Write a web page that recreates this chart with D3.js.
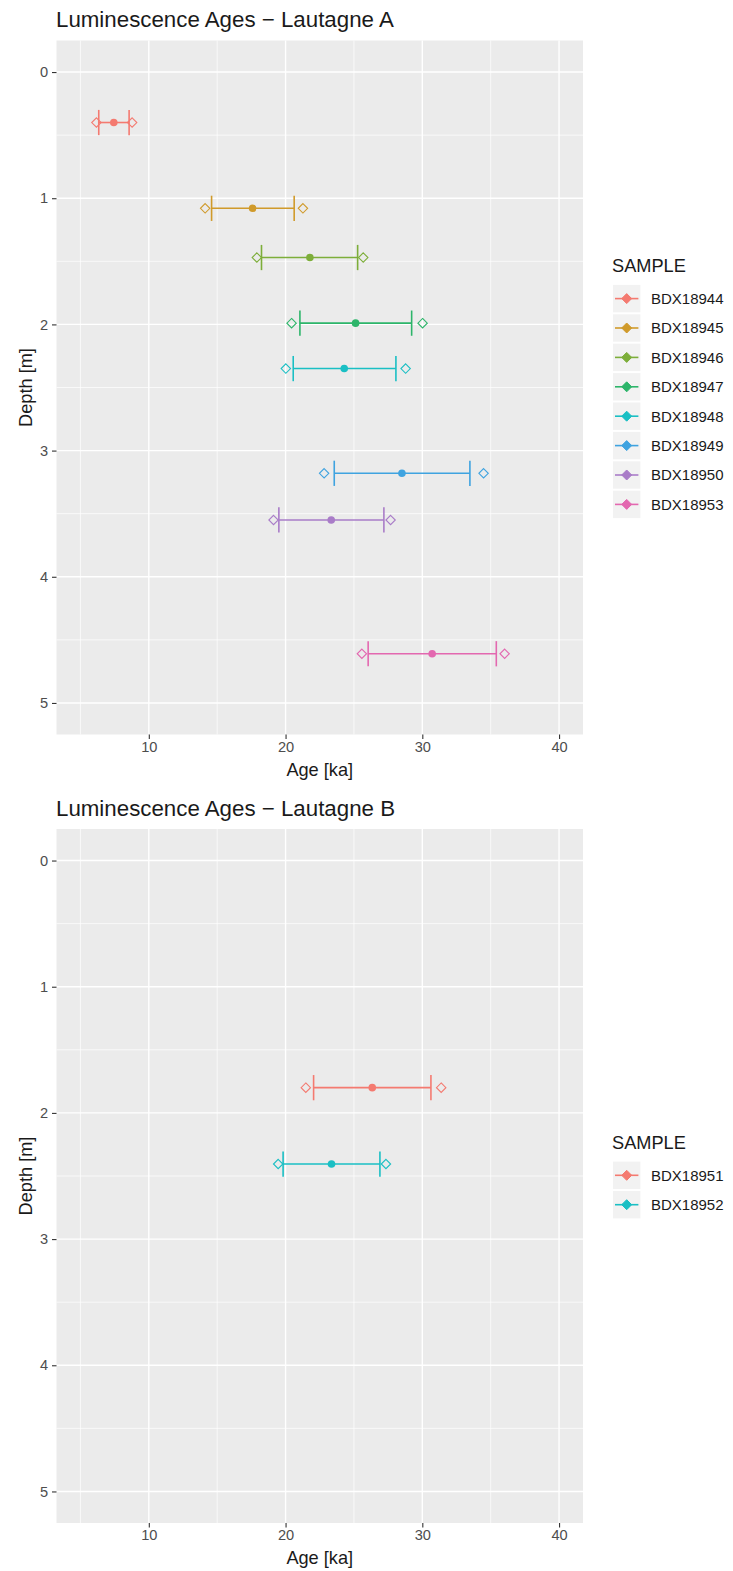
<!DOCTYPE html>
<html>
<head>
<meta charset="utf-8">
<script src="https://cdn.jsdelivr.net/npm/d3@7"></script>
<style>
  html, body { margin: 0; padding: 0; background: #ffffff; }
  svg { display: block; }
  text { font-family: "Liberation Sans", Arial, "DejaVu Sans", sans-serif; }
</style>
</head>
<body>
<svg id="chart" width="733" height="1571"></svg>
<script>
// ---------------- DATA ----------------
// Panel A (Lautagne A)
const samplesA   = ["BDX18944","BDX18945","BDX18946","BDX18947","BDX18948","BDX18949","BDX18950","BDX18953"];
const depthA     = [0.40, 1.08, 1.47, 1.99, 2.35, 3.18, 3.55, 4.61];
const ageA       = [7.44, 17.59, 21.78, 25.12, 24.29, 28.51, 23.34, 30.72];
const errLowA    = [6.34, 14.59, 18.24, 21.05, 20.56, 23.56, 19.51, 26.04];
const errHighA   = [8.56, 20.63, 25.27, 29.22, 28.07, 33.48, 27.19, 35.41];
const altLowA    = [6.17, 14.12, 17.90, 20.44, 20.02, 22.82, 19.12, 25.58];
const altHighA   = [8.78, 21.27, 25.68, 30.02, 28.78, 34.48, 27.68, 36.02];
const colorsA    = ["#F47A70","#D09A2A","#7DAE3A","#2DB56A","#1ABFC4","#3FA3E0","#A97CC8","#E368B0"];

// Panel B (Lautagne B)
const samplesB   = ["BDX18951","BDX18952"];
const depthB     = [1.80, 2.405];
const ageB       = [26.34, 23.36];
const errLowB    = [22.05, 19.82];
const errHighB   = [30.63, 26.90];
const altLowB    = [21.48, 19.46];
const altHighB   = [31.38, 27.34];
const colorsB    = ["#F47A70","#1ABFC4"];

// Axes
const xLimits    = [5, 40];
const yLimits    = [0, 5];
const xMajor     = [10, 20, 30, 40];
const xMinor     = [5, 15, 25, 35];
const yMajor     = [0, 1, 2, 3, 4, 5];
const yMinor     = [0.5, 1.5, 2.5, 3.5, 4.5];
const titles     = ["Luminescence Ages \u2212 Lautagne A", "Luminescence Ages \u2212 Lautagne B"];
const xTitle     = "Age [ka]";
const yTitle     = "Depth [m]";
const legendTitle = "SAMPLE";

// ---------------- DRAW ----------------
const svg = d3.select("#chart");
const panelLeft = 56.5, panelRight = 583;
const panelTop = 40.5, panelBottom = 734.5;
const panelOffset = 788.5;

function expand(lim, f) { const d = (lim[1]-lim[0])*f; return [lim[0]-d, lim[1]+d]; }

function drawPanel(offsetY, title, samples, depth, age, eLo, eHi, aLo, aHi, colors) {
  const g = svg.append("g").attr("transform", `translate(0,${offsetY})`);
  const x = d3.scaleLinear().domain(expand(xLimits, 0.05)).range([panelLeft, panelRight]);
  const y = d3.scaleLinear().domain(expand(yLimits, 0.05)).range([panelTop, panelBottom]);

  // title
  g.append("text").attr("x", 56).attr("y", 27.3)
    .attr("font-size", 22.3).attr("fill", "#1a1a1a").text(title);

  // background
  g.append("rect").attr("x", panelLeft).attr("y", panelTop)
    .attr("width", panelRight - panelLeft).attr("height", panelBottom - panelTop)
    .attr("fill", "#EBEBEB");

  // grid minor
  g.selectAll(".xminor").data(xMinor).join("line")
    .attr("x1", d => x(d)).attr("x2", d => x(d)).attr("y1", panelTop).attr("y2", panelBottom)
    .attr("stroke", "#ffffff").attr("stroke-width", 0.7);
  g.selectAll(".yminor").data(yMinor).join("line")
    .attr("y1", d => y(d)).attr("y2", d => y(d)).attr("x1", panelLeft).attr("x2", panelRight)
    .attr("stroke", "#ffffff").attr("stroke-width", 0.7);
  // grid major
  g.selectAll(".xmajor").data(xMajor).join("line")
    .attr("x1", d => x(d)).attr("x2", d => x(d)).attr("y1", panelTop).attr("y2", panelBottom)
    .attr("stroke", "#ffffff").attr("stroke-width", 1.4);
  g.selectAll(".ymajor").data(yMajor).join("line")
    .attr("y1", d => y(d)).attr("y2", d => y(d)).attr("x1", panelLeft).attr("x2", panelRight)
    .attr("stroke", "#ffffff").attr("stroke-width", 1.4);

  // axes
  const xAxis = d3.axisBottom(x).tickValues(xMajor).tickSize(4.5).tickPadding(2.5).tickFormat(d3.format("d"));
  const yAxis = d3.axisLeft(y).tickValues(yMajor).tickSize(4.5).tickPadding(4).tickFormat(d3.format("d"));
  const gx = g.append("g").attr("transform", `translate(0,${panelBottom})`).call(xAxis);
  const gy = g.append("g").attr("transform", `translate(${panelLeft},0)`).call(yAxis);
  [gx, gy].forEach(a => {
    a.select(".domain").remove();
    a.selectAll(".tick line").attr("stroke", "#333333").attr("stroke-width", 1.1);
    a.selectAll(".tick text").attr("fill", "#4D4D4D").attr("font-size", 14.6)
      .attr("font-family", '"Liberation Sans", Arial, sans-serif');
  });

  // axis titles
  g.append("text").attr("x", (panelLeft + panelRight) / 2).attr("y", 775.5)
    .attr("text-anchor", "middle").attr("font-size", 18.2).attr("fill", "#1a1a1a").text(xTitle);
  g.append("text").attr("transform", `translate(31.5,${(panelTop + panelBottom) / 2}) rotate(-90)`)
    .attr("text-anchor", "middle").attr("font-size", 18.2).attr("fill", "#1a1a1a").text(yTitle);

  // marks
  const idx = d3.range(samples.length);
  const capH = y(0.1) - y(0);
  const marks = g.append("g");
  const item = marks.selectAll(".item").data(idx).join("g");
  // error bar
  item.append("line")
    .attr("x1", i => x(eLo[i])).attr("x2", i => x(eHi[i]))
    .attr("y1", i => y(depth[i])).attr("y2", i => y(depth[i]))
    .attr("stroke", i => colors[i]).attr("stroke-width", 1.6);
  item.append("line")
    .attr("x1", i => x(eLo[i])).attr("x2", i => x(eLo[i]))
    .attr("y1", i => y(depth[i]) - capH).attr("y2", i => y(depth[i]) + capH)
    .attr("stroke", i => colors[i]).attr("stroke-width", 1.6);
  item.append("line")
    .attr("x1", i => x(eHi[i])).attr("x2", i => x(eHi[i]))
    .attr("y1", i => y(depth[i]) - capH).attr("y2", i => y(depth[i]) + capH)
    .attr("stroke", i => colors[i]).attr("stroke-width", 1.6);
  // central point
  item.append("circle")
    .attr("cx", i => x(age[i])).attr("cy", i => y(depth[i])).attr("r", 3.8)
    .attr("fill", i => colors[i]);
  // hollow diamonds
  const dia = (cx, cy, r) => `M${cx},${cy - r}L${cx + r},${cy}L${cx},${cy + r}L${cx - r},${cy}Z`;
  item.append("path")
    .attr("d", i => dia(x(aLo[i]), y(depth[i]), 4.7))
    .attr("fill", "none").attr("stroke", i => colors[i]).attr("stroke-width", 1.1);
  item.append("path")
    .attr("d", i => dia(x(aHi[i]), y(depth[i]), 4.7))
    .attr("fill", "none").attr("stroke", i => colors[i]).attr("stroke-width", 1.1);

  // legend
  const pitch = 29.4, keySize = 27.4;
  const center = (panelTop + panelBottom) / 2;
  const keysStart = center - (samples.length * pitch) / 2 + 15;
  const lg = g.append("g");
  lg.append("text").attr("x", 612).attr("y", keysStart - 12.5)
    .attr("font-size", 18.2).attr("fill", "#1a1a1a").text(legendTitle);
  const li = lg.selectAll(".li").data(idx).join("g")
    .attr("transform", i => `translate(613,${keysStart + i * pitch})`);
  li.append("rect").attr("width", keySize).attr("height", keySize).attr("fill", "#F2F2F2");
  li.append("line").attr("x1", 2).attr("x2", keySize - 2)
    .attr("y1", keySize / 2).attr("y2", keySize / 2)
    .attr("stroke", i => colors[i]).attr("stroke-width", 1.6);
  li.append("path").attr("d", dia(keySize / 2, keySize / 2, 5))
    .attr("fill", i => colors[i]).attr("stroke", i => colors[i]).attr("stroke-width", 1);
  li.append("text").attr("x", 38).attr("y", keySize / 2).attr("dy", "0.36em")
    .attr("font-size", 15).attr("fill", "#1a1a1a").text(i => samples[i]);
}

drawPanel(0, titles[0], samplesA, depthA, ageA, errLowA, errHighA, altLowA, altHighA, colorsA);
drawPanel(panelOffset, titles[1], samplesB, depthB, ageB, errLowB, errHighB, altLowB, altHighB, colorsB);
</script>
</body>
</html>
